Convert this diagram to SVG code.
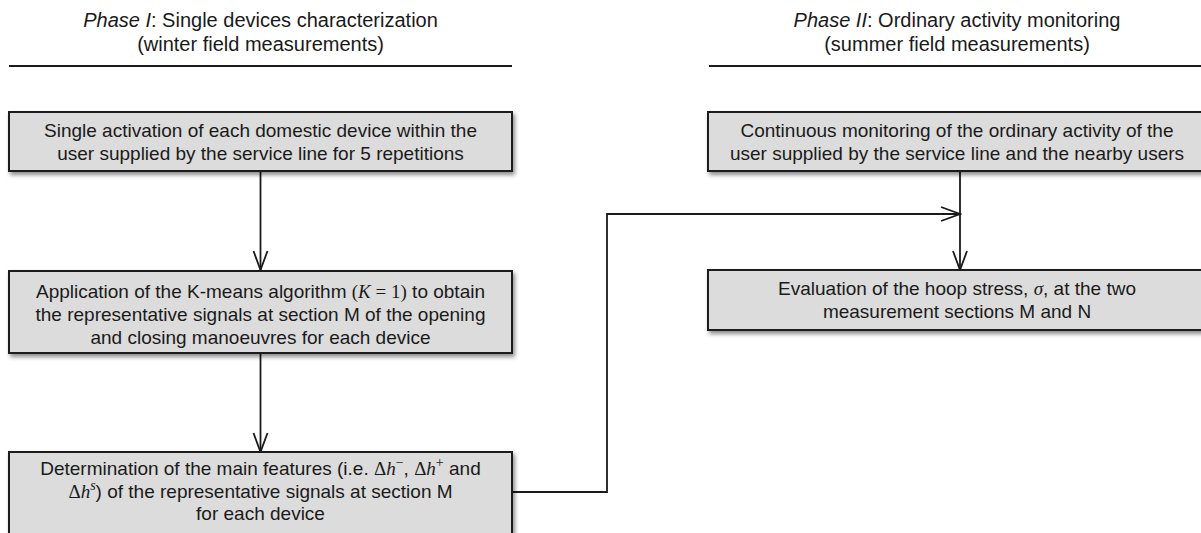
<svg xmlns="http://www.w3.org/2000/svg" width="1201" height="533" viewBox="0 0 1201 533">
<defs>
<filter id="sh" x="-5%" y="-10%" width="115%" height="140%">
<feDropShadow dx="2" dy="3" stdDeviation="2" flood-color="#000" flood-opacity="0.45"/>
</filter>
<marker id="ah" markerUnits="userSpaceOnUse" markerWidth="22" markerHeight="18" refX="19" refY="7" orient="auto" viewBox="-1 -1 22 16">
<path d="M0,0 L19,7 L0,14" fill="none" stroke="#1a1a1a" stroke-width="1.8"/>
</marker>
</defs>
<style>
.box{fill:#dcdcdc;stroke:#1e1e1e;stroke-width:2;filter:url(#sh)}
.t{font-family:"Liberation Sans",Arial,sans-serif;font-size:19px;fill:#1a1a1a;text-anchor:middle}
.h{font-size:20px}
.m{font-family:"Liberation Serif","DejaVu Serif",serif}
.i{font-style:italic}
.hl{stroke:#1a1a1a;stroke-width:2}
.c{fill:none;stroke:#1a1a1a;stroke-width:1.8}
</style>
<rect width="1201" height="533" fill="#ffffff"/>
<g id="header-phase1">
<text class="t h" x="260.5" y="27"><tspan class="i">Phase I</tspan>: Single devices characterization</text>
<text class="t h" x="260.5" y="51">(winter field measurements)</text>
<line class="hl" x1="9" y1="66" x2="512" y2="66"/>
</g>
<g id="header-phase2">
<text class="t h" x="957" y="27"><tspan class="i">Phase II</tspan>: Ordinary activity monitoring</text>
<text class="t h" x="957" y="51">(summer field measurements)</text>
<line class="hl" x1="709" y1="66" x2="1201" y2="66"/>
</g>
<g id="connectors">
<line class="c" x1="260.5" y1="171" x2="260.5" y2="270" marker-end="url(#ah)"/>
<line class="c" x1="260.5" y1="353" x2="260.5" y2="452" marker-end="url(#ah)"/>
<polyline class="c" points="512,492 607,492 607,214 960,214" marker-end="url(#ah)"/>
<line class="c" x1="960" y1="171" x2="960" y2="270" marker-end="url(#ah)"/>
</g>
<g id="node-1">
<rect class="box" x="9" y="112" width="503" height="59"/>
<text class="t" x="260.5" y="137">Single activation of each domestic device within the</text>
<text class="t" x="260.5" y="160">user supplied by the service line for 5 repetitions</text>
</g>
<g id="node-2">
<rect class="box" x="9" y="271" width="503" height="82"/>
<text class="t" x="260.5" y="298">Application of the K-means algorithm <tspan class="m">(<tspan class="i">K</tspan> = 1)</tspan> to obtain</text>
<text class="t" x="260.5" y="321">the representative signals at section M of the opening</text>
<text class="t" x="260.5" y="344">and closing manoeuvres for each device</text>
</g>
<g id="node-3">
<rect class="box" x="9" y="452" width="503" height="100"/>
<text class="t" x="260.5" y="475">Determination of the main features (i.e. <tspan class="m">Δ<tspan class="i">h</tspan><tspan font-size="14" dy="-8">−</tspan></tspan><tspan dy="8">, </tspan><tspan class="m">Δ<tspan class="i">h</tspan><tspan font-size="14" dy="-8">+</tspan></tspan><tspan dy="8"> and</tspan></text>
<text class="t" x="260.5" y="498"><tspan class="m">Δ<tspan class="i">h</tspan><tspan class="i" font-size="14" dy="-8">s</tspan></tspan><tspan dy="8">) of the representative signals at section M</tspan></text>
<text class="t" x="260.5" y="520">for each device</text>
</g>
<g id="node-4">
<rect class="box" x="708" y="112" width="503" height="59"/>
<text class="t" x="957" y="137">Continuous monitoring of the ordinary activity of the</text>
<text class="t" x="957" y="160">user supplied by the service line and the nearby users</text>
</g>
<g id="node-5">
<rect class="box" x="708" y="270" width="503" height="60"/>
<text class="t" x="957" y="295">Evaluation of the hoop stress, <tspan class="m i">σ</tspan>, at the two</text>
<text class="t" x="957" y="318">measurement sections M and N</text>
</g>
</svg>
